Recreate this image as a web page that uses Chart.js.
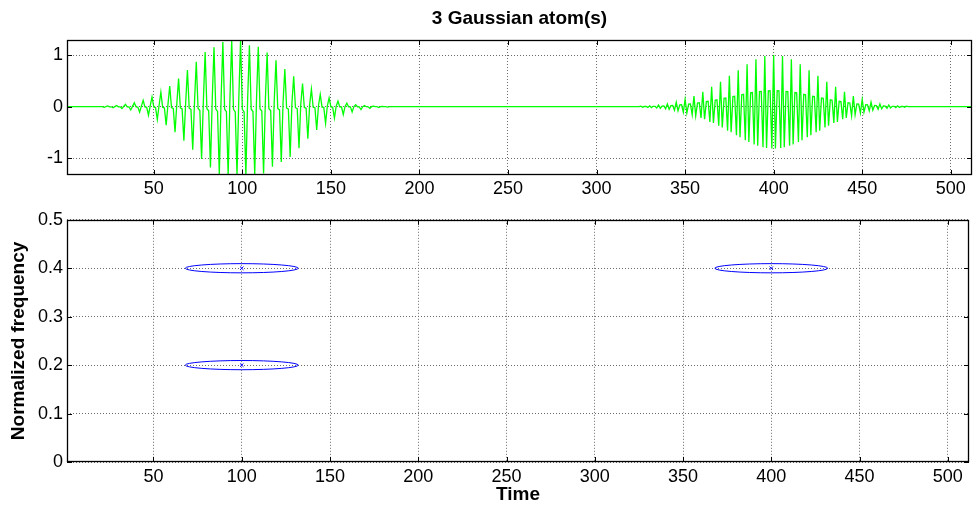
<!DOCTYPE html>
<html>
<head>
<meta charset="utf-8">
<script src="https://cdn.jsdelivr.net/npm/chart.js@4.4.1/dist/chart.umd.min.js"></script>
<style>
  html, body { margin: 0; padding: 0; background: #fff; }
  #fig { position: relative; width: 974px; height: 506px; }
  #fig canvas { position: absolute; left: 0; }
</style>
</head>
<body>
<div id="fig">
  <canvas id="signal" width="974" height="205" style="top:0"></canvas>
  <canvas id="atoms" width="974" height="301" style="top:205px"></canvas>
</div>
<script>
// signal samples (zero outside the two bursts)
const signalLength = 512;
const burstStart = [22, 325];
const burst1 = [
  -0.011, 0.001, 0.014, -0.001, -0.001, -0.020, 0.002, 0.025, -0.001, -0.002,
  -0.036, 0.004, 0.045, -0.002, -0.004, -0.063, 0.007, 0.075, -0.003, -0.007,
  -0.104, 0.012, 0.122, -0.005, -0.010, -0.163, 0.019, 0.189, -0.007, -0.016,
  -0.247, 0.028, 0.281, -0.011, -0.023, -0.357, 0.040, 0.400, -0.015, -0.032,
  -0.494, 0.055, 0.544, -0.021, -0.043, -0.655, 0.072, 0.709, -0.027, -0.056,
  -0.831, 0.091, 0.870, -0.033, -0.068, -1.010, 0.110, 1.057, -0.039, -0.080,
  -1.176, 0.127, 1.150, -0.044, -0.090, -1.311, 0.140, 1.250, -0.048, -0.097,
  -1.320, 0.148, 1.290, -0.050, -0.100, -1.320, 0.150, 1.290, -0.050, -0.099,
  -1.320, 0.145, 1.190, -0.047, -0.093, -1.315, 0.135, 1.160, -0.043, -0.084,
  -1.290, 0.120, 1.050, -0.038, -0.073, -1.160, 0.102, 0.900, -0.032, -0.061,
  -1.070, 0.083, 0.730, -0.025, -0.048, -0.970, 0.065, 0.590, -0.019, -0.037,
  -0.800, 0.049, 0.450, -0.014, -0.027, -0.620, 0.035, 0.340, -0.010, -0.019,
  -0.450, 0.024, 0.240, -0.007, -0.012, -0.320, 0.016, 0.170, -0.004, -0.008,
  -0.220, 0.010, 0.110, -0.003, -0.005, -0.150, 0.006, 0.070, -0.002, -0.003,
  -0.100, 0.003, 0.040, -0.001, -0.002, -0.055, 0.002, 0.022, 0, -0.001,
  -0.030, 0.001, 0.012, 0, 0, -0.015, 0, 0.005, 0, 0, -0.006
];
const burst2 = [
  0.010, -0.009, 0.004, 0.004, -0.013, 0.018, -0.016, 0.008, 0.008, -0.023,
  0.033, -0.029, 0.013, 0.014, -0.040, 0.055, -0.049, 0.021, 0.023, -0.066,
  0.090, -0.080, 0.034, 0.038, -0.106, 0.143, -0.121, 0.050, 0.054, -0.155,
  0.206, -0.175, 0.072, 0.078, -0.218, 0.289, -0.242, 0.099, 0.105, -0.295,
  0.386, -0.312, 0.126, 0.133, -0.369, 0.481, -0.402, 0.161, 0.169, -0.463,
  0.600, -0.491, 0.195, 0.203, -0.552, 0.707, -0.591, 0.233, 0.240, -0.648,
  0.823, -0.682, 0.267, 0.273, -0.728, 0.917, -0.754, 0.292, 0.296, -0.784,
  0.979, -0.798, 0.307, 0.308, -0.808,
  1.000,
  -0.808, 0.308, 0.307, -0.798, 0.979, -0.784, 0.296, 0.292, -0.754, 0.917,
  -0.728, 0.273, 0.267, -0.682, 0.823, -0.648, 0.240, 0.233, -0.591, 0.707,
  -0.552, 0.203, 0.195, -0.491, 0.600, -0.463, 0.169, 0.161, -0.402, 0.481,
  -0.369, 0.133, 0.126, -0.312, 0.386, -0.295, 0.105, 0.099, -0.242, 0.289,
  -0.218, 0.078, 0.072, -0.175, 0.206, -0.155, 0.054, 0.050, -0.121, 0.143,
  -0.106, 0.038, 0.034, -0.080, 0.090, -0.066, 0.023, 0.021, -0.049, 0.055,
  -0.040, 0.014, 0.013, -0.029, 0.033, -0.023, 0.008, 0.008, -0.016, 0.018,
  -0.013, 0.004, 0.004, -0.009, 0.010
];

// atoms shown in the time-frequency plane
const atomTime = [100, 100, 400];
const atomFreq = [0.2, 0.4, 0.4];
const atomTimeSpread = [32, 32, 32];
const atomFreqSpread = [0.0095, 0.0095, 0.0095];

const timeTicks = [50, 100, 150, 200, 250, 300, 350, 400, 450, 500];
const ampTicks = [-1, 0, 1];
const freqTicks = [0, 0.1, 0.2, 0.3, 0.4, 0.5];

// build the line points: zero between bursts
const signalPoints = [{ x: 1, y: 0 }];
[burst1, burst2].forEach((vals, b) => {
    const start = burstStart[b];
    signalPoints.push({ x: start - 1, y: 0 });
    vals.forEach((v, i) => signalPoints.push({ x: start + i, y: v }));
    signalPoints.push({ x: start + vals.length, y: 0 });
});
signalPoints.push({ x: signalLength, y: 0 });

Chart.defaults.font.family = '"Liberation Sans", Arial, sans-serif';
Chart.defaults.color = '#000';

const gridStyle = { color: '#6a6a6a', lineWidth: 1, drawTicks: false };
const borderStyle = { display: false, dash: [1, 2] };
const tickFont = { size: 18 };

function fixedTicks(list) {
    return (scale) => { scale.ticks = list.map(v => ({ value: v })); };
}

// matlab style box with inward ticks on all four sides
const matlabAxes = {
    id: 'matlabAxes',
    afterDraw(chart) {
        const { ctx, chartArea: a, scales: { x, y } } = chart;
        const len = 5;
        ctx.save();
        ctx.strokeStyle = '#000';
        ctx.lineWidth = 1;
        ctx.beginPath();
        x.ticks.forEach(t => {
            const px = Math.round(x.getPixelForValue(t.value)) + 0.5;
            ctx.moveTo(px, a.top); ctx.lineTo(px, a.top + len);
            ctx.moveTo(px, a.bottom); ctx.lineTo(px, a.bottom - len);
        });
        y.ticks.forEach(t => {
            const py = Math.round(y.getPixelForValue(t.value)) + 0.5;
            ctx.moveTo(a.left, py); ctx.lineTo(a.left + len, py);
            ctx.moveTo(a.right, py); ctx.lineTo(a.right - len, py);
        });
        ctx.stroke();
        ctx.lineWidth = 1.3;
        ctx.strokeRect(Math.round(a.left) + 0.5, Math.round(a.top) + 0.5,
            Math.round(a.width) - 1, Math.round(a.height) - 1);
        ctx.restore();
    }
};

// ellipses around each atom
const atomEllipses = {
    id: 'atomEllipses',
    afterDatasetsDraw(chart) {
        const { ctx, scales: { x, y } } = chart;
        ctx.save();
        ctx.strokeStyle = '#0000ff';
        ctx.lineWidth = 1;
        atomTime.forEach((t, i) => {
            const cx = x.getPixelForValue(t);
            const cy = y.getPixelForValue(atomFreq[i]);
            const rx = Math.abs(x.getPixelForValue(t + atomTimeSpread[i]) - cx);
            const ry = Math.abs(y.getPixelForValue(atomFreq[i] + atomFreqSpread[i]) - cy);
            ctx.beginPath();
            ctx.ellipse(cx, cy, rx, ry, 0, 0, Math.PI * 2);
            ctx.stroke();
        });
        ctx.restore();
    }
};

new Chart(document.getElementById('signal'), {
    type: 'line',
    data: {
        datasets: [{
            data: signalPoints,
            borderColor: '#00ff00',
            borderWidth: 1.3,
            pointRadius: 0,
            tension: 0,
            clip: 0
        }]
    },
    options: {
        responsive: false,
        animation: false,
        devicePixelRatio: 1,
        layout: { padding: { right: 2 } },
        plugins: {
            legend: { display: false },
            tooltip: { enabled: false },
            title: {
                display: true,
                text: '3 Gaussian atom(s)',
                fullSize: false,
                font: { size: 19, weight: 'bold' },
                padding: { top: 7, bottom: 10.2 }
            }
        },
        scales: {
            x: {
                type: 'linear', min: 1, max: signalLength,
                afterBuildTicks: fixedTicks(timeTicks),
                afterFit: (s) => { s.height = 30; },
                ticks: { font: tickFont, padding: 3, maxRotation: 0, autoSkip: false },
                grid: gridStyle,
                border: borderStyle
            },
            y: {
                min: -1.32, max: 1.29,
                afterBuildTicks: fixedTicks(ampTicks),
                afterFit: (s) => { s.width = 67; },
                ticks: { font: tickFont, padding: 4 },
                grid: gridStyle,
                border: borderStyle
            }
        }
    },
    plugins: [matlabAxes]
});

new Chart(document.getElementById('atoms'), {
    type: 'scatter',
    data: {
        datasets: [{
            data: atomTime.map((t, i) => ({ x: t, y: atomFreq[i] })),
            pointStyle: 'crossRot',
            pointRadius: 2.5,
            borderColor: '#0000ff',
            borderWidth: 1
        }]
    },
    options: {
        responsive: false,
        animation: false,
        devicePixelRatio: 1,
        layout: { padding: { top: 13, right: 2 } },
        plugins: {
            legend: { display: false },
            tooltip: { enabled: false }
        },
        scales: {
            x: {
                type: 'linear', min: 1, max: signalLength,
                afterBuildTicks: fixedTicks(timeTicks),
                afterFit: (s) => { s.height = 44; },
                ticks: { font: tickFont, padding: 4, maxRotation: 0, autoSkip: false },
                grid: gridStyle,
                border: borderStyle,
                title: {
                    display: true, text: 'Time',
                    font: { size: 19, weight: 'bold' },
                    padding: { top: 0, bottom: 0 }
                }
            },
            y: {
                min: 0, max: 0.5,
                afterBuildTicks: fixedTicks(freqTicks),
                afterFit: (s) => { s.width = 67; },
                ticks: { font: tickFont, padding: 4 },
                grid: gridStyle,
                border: borderStyle,
                title: {
                    display: true, text: 'Normalized frequency',
                    font: { size: 19, weight: 'bold' },
                    padding: { top: 7, bottom: 0 }
                }
            }
        }
    },
    plugins: [atomEllipses, matlabAxes]
});
</script>
</body>
</html>
